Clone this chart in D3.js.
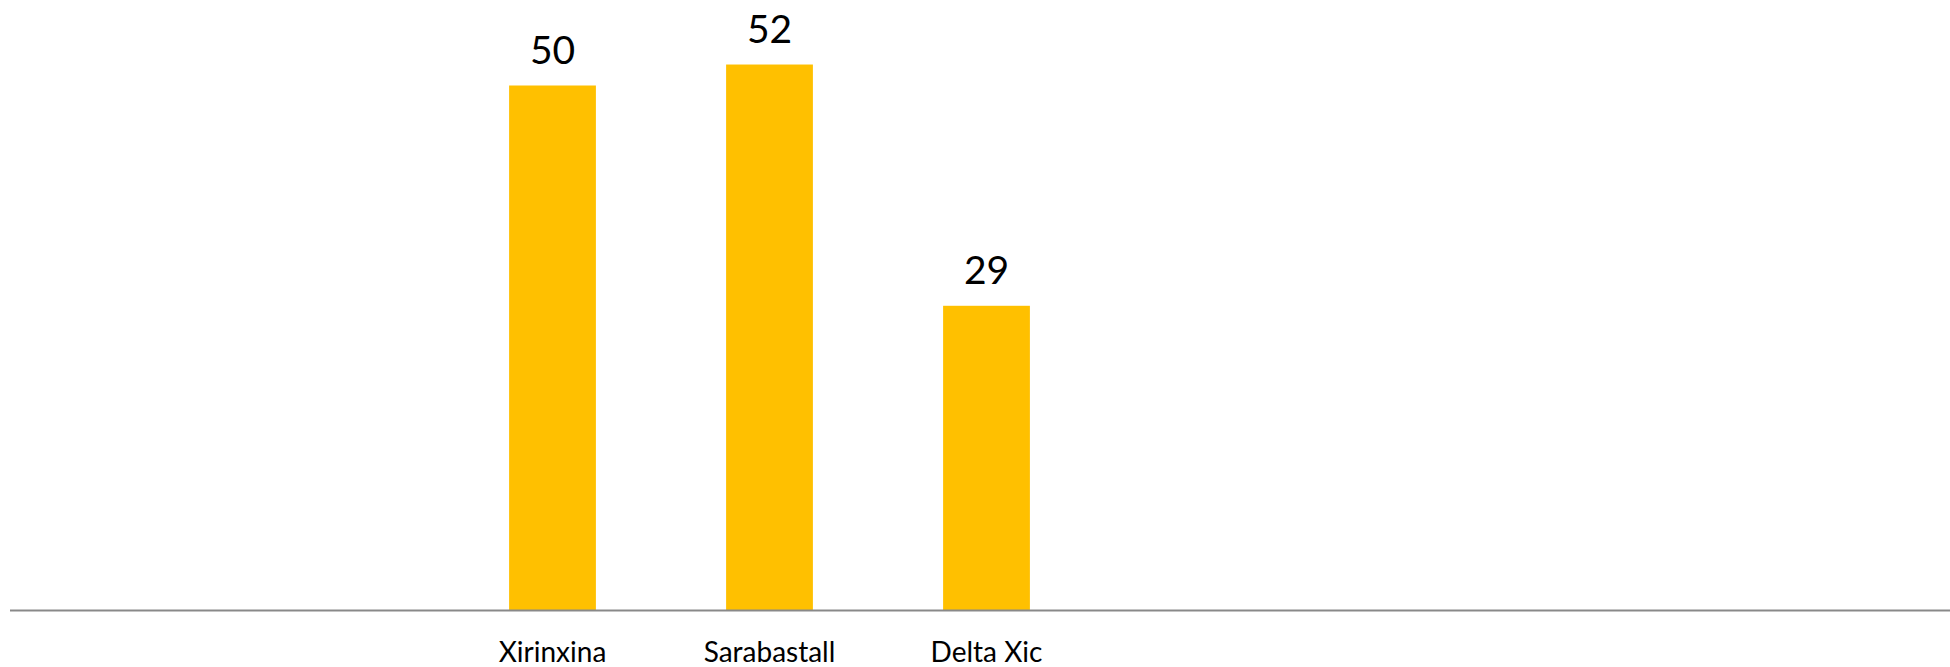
<!DOCTYPE html>
<html>
<head>
<meta charset="utf-8">
<script src="https://cdn.jsdelivr.net/npm/d3@7"></script>
<style>
  html, body { margin: 0; padding: 0; background: #fff; }
  svg { display: block; }
</style>
</head>
<body>
<svg id="chart" width="1950" height="667"></svg>
<script>
const categories = ["Xirinxina", "Sarabastall", "Delta Xic"];
const values = [50, 52, 29];

const svg = d3.select("#chart");
const baseY = 610;
const unit = 10.49;

const x = d3.scaleBand()
  .domain(categories)
  .range([444, 1095])
  .paddingInner(0.6)
  .paddingOuter(0.3);

const y = d3.scaleLinear()
  .domain([0, 60])
  .range([baseY, baseY - 60 * unit]);

svg.selectAll("rect.bar")
  .data(values)
  .enter().append("rect")
  .attr("class", "bar")
  .attr("x", (d, i) => x(categories[i]))
  .attr("width", x.bandwidth())
  .attr("y", d => y(d))
  .attr("height", d => y(0) - y(d))
  .attr("fill", "#FFC000");

svg.selectAll("text.val")
  .data(values)
  .enter().append("text")
  .attr("class", "val")
  .attr("x", (d, i) => x(categories[i]) + x.bandwidth() / 2)
  .attr("y", d => y(d) - 22)
  .attr("text-anchor", "middle")
  .attr("font-family", "Lato, 'Open Sans', sans-serif")
  .attr("font-size", 39)
  .attr("fill", "#000")
  .text(d => d);

// axis baseline
svg.append("line")
  .attr("x1", 10).attr("x2", 1950)
  .attr("y1", baseY + 0.5).attr("y2", baseY + 0.5)
  .attr("stroke", "#898989")
  .attr("stroke-width", 2);

const axis = d3.axisBottom(x).tickSize(0).tickPadding(0);
const g = svg.append("g").attr("transform", `translate(0,${baseY})`).call(axis);
g.select(".domain").remove();
g.selectAll("text")
  .attr("y", 52)
  .attr("dy", 0)
  .attr("font-family", "Lato, 'Open Sans', sans-serif")
  .attr("font-size", 28)
  .attr("fill", "#000");
</script>
</body>
</html>
